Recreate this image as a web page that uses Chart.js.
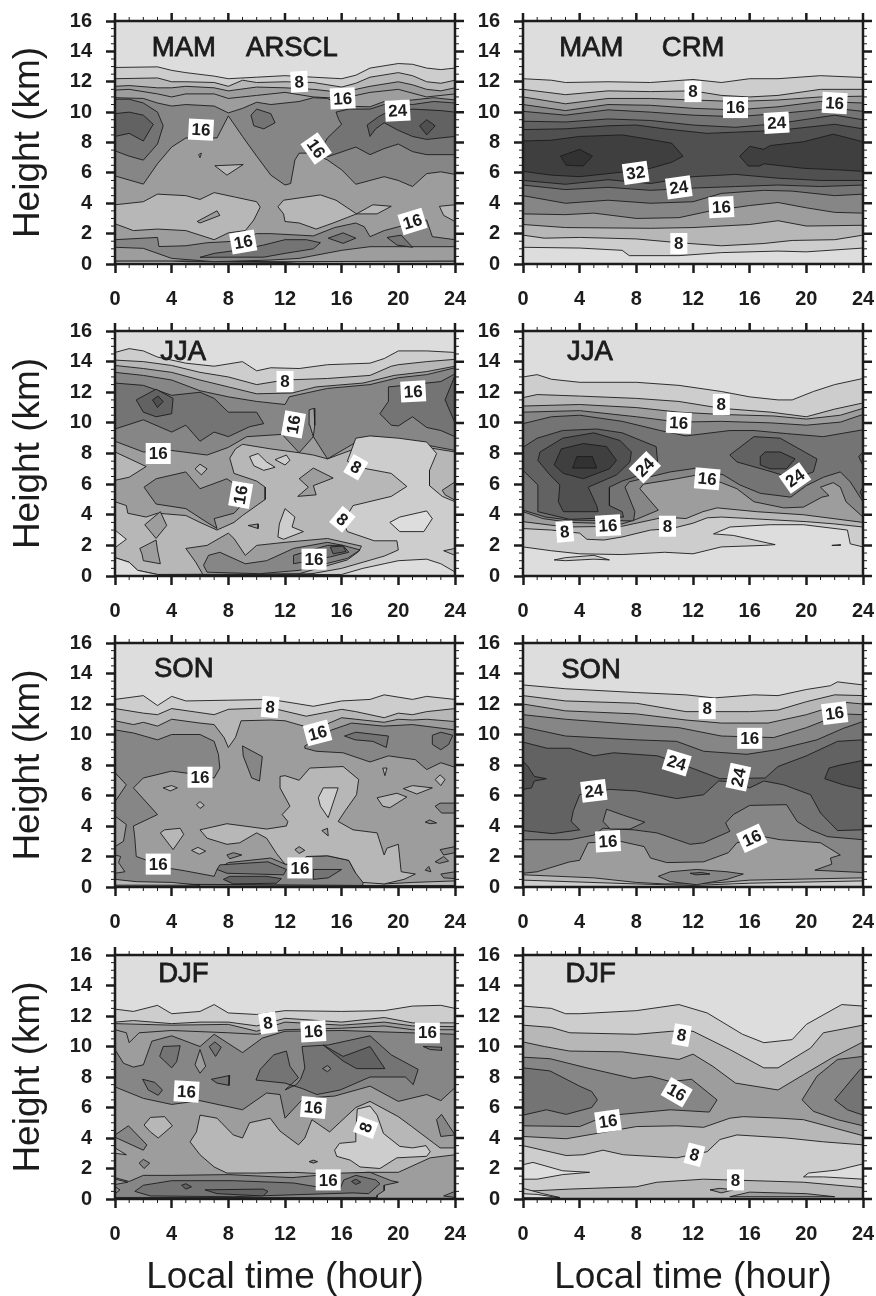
<!DOCTYPE html>
<html lang="en">
<head>
<meta charset="UTF-8">
<title>Cloud fraction by local time and height</title>
<script src="https://cdn.jsdelivr.net/npm/chart.js"></script>
<style>
body { margin: 0; background: #fff; width: 876px; height: 1296px; position: relative; overflow: hidden; }
canvas { position: absolute; filter: blur(0.45px); }
</style>
</head>
<body>
<script>
// contour level -> gray
const levelGrays = { 0: '#dddddd', 4: '#cdcdcd', 8: '#b7b7b7', 12: '#9d9d9d', 16: '#868686', 20: '#747474', 24: '#626262', 28: '#505050', 32: '#3f3f3f', 36: '#323232' };

const xTicks = { min: 0, max: 24, step: 4 };
const yTicks = { min: 0, max: 16, step: 2 };

// each ring: [level, x,y,x,y... , optional lower edge x,y,x,y... left to right]
const mamArscl = [
  [4, [0,12.94,3,12.98,4,12.75,5,12.6,7,12.37,8,12.2,10,12.3,12,12.4,14,12.3,16,12.2,17,12.43,18,12.9,20,13.2,21,13.15,22,12.9,23,12.8,24,12.9,24,0,0,0]],
  [8, [0,12.2,3,12.25,4,12,5,12,7,11.95,8,11.7,9,12.1,10,11.95,12,12,14,11.95,16,11.65,17,11.9,18,12.3,20,12.6,21,12.4,22,12,23,11.9,24,12.1], [0,0.2,1,0.3,3,0.3,5,0.15,12,0.1,14,0.25,15,0.45,16,0.15,17.5,0.3,18,0.7,18.5,0.3,19,0.2,24,0.2]],
  [12, [0,11.7,1,11.75,3,11.6,4,11.6,5,11.7,7,11.6,8,11.4,10,11.65,12,11.6,14,11.5,16,11.3,17,11.5,18,11.7,20,12,21,11.8,22,11.5,23,11.4,24,11.6], [0,0.2,5,0.2,12,0.15,24,0.2]],
  [12, [0,11.45,1,11.5,3,11.2,4,11,5,11.2,7,11.2,8,10.9,10,11.1,12,11.3,14,11,16,10.9,17,11.1,18,11.3,20,11.5,22,11,24,11.2], [0,0.2,5,0.2,12,0.15,24,0.2]],
  [16, [0,10.95,2,10.9,3,10.6,4,10.4,5,10.5,7,10.4,8,9.95,9,10.25,10,10.65,11,10.5,12,10.6,13,10.7,14,10.95,15,10.9,16,10.4,18,10.35,19,10.7,21,10.8,22.5,10.95,24,10.8], [0,5.8,2,5.26,3,6.6,4,7.7,5,8.3,7.2,8.3,8,9.75,9,8.4,10,7.1,11,5.85,12,5.2,12.4,5.3,12.7,6.85,13,7.3,14,7.3,15,6.85,16,6.2,17,5.25,18,5.5,19,5.75,20,5.5,21,5.1,22,5.95,23,6.07,24,5.9]],
  [20, [15.6,10,16.5,10.2,18,10.2,19,10.5,20,10.6,21,10.5,22.5,10.7,24,10.6,24,7.2,22,7.2,21,7.4,20,7.9,19,7.6,18,7.2,17,7.7,15,7.06,14.5,7.5,15,8.3,16,9.2,15.8,9.5]],
  [20, [0,10.85,1,10.85,2,10.6,3,10,3.4,9.1,3,7.9,2,6.84,1,7.1,0,7.45]],
  [20, [10,10.2,11,9.9,11.3,9.3,10.5,8.9,9.8,9.1,9.6,9.8]],
  [24, [0,9.9,1,10,2,9.8,2.7,9.2,2,8.1,1,8.6,0,8.4]],
  [24, [17.8,9.15,18,8.4,18.4,8.9,19,9.3,20,8.8,21,8.4,22,8.2,23,8.3,24,8.4,24,10,23,10.1,21,10.2,20,10,19,9.9,18.6,9.7]],
  [28, [22,9.5,22.6,9.1,22,8.5,21.5,9.1]],
  [8, [0,3.9,2,4.1,3,4.6,5,4.5,6,4.25,7,4.7,8.5,4.4,10,4.1,10.25,3.75,9.8,2.9,9.2,2.2,8,2.05,7,1.6,5,2.2,3,2.3,1.3,2.2,0,2.65]],
  [8, [11.5,3.77,11.9,4.2,14.5,4.55,15.6,4.2,17.05,3.3,18.2,3.9,19.5,3.8,18.5,3.3,17.05,3.3,15.4,2.7,14.2,2.3,13,2.7,12,2.8,11.9,3.3]],
  [8, [22.9,3.8,24,3.9,24,2.8,23.2,3.2]],
  [12, [5.8,2.8,7.2,3.5,7.4,3.2,6,2.7]],
  [8, [7.05,6.47,9.05,6.55,7.9,5.85]],
  [8, [5.9,7.2,6.1,7.3,6,7]],
  [16, [0,1.6,3,1.75,3.1,1.15,5,1.2,6.5,1.4,8.5,1.5,10,2,11,2,14,1.85,15.5,2.4,17,2.7,17.6,2.45,18,1.8,19,2.2,20,2.45,22,2.9,22.4,1.8,24,1.6], [0,1.1,2,1.03,4,0.37,7,0.15,11,0.26,13,0.37,16,0.9,18,1.14,24,1.14]],
  [20, [6,0.44,7,0.7,9,0.95,10.5,1.25,12,1.6,13.5,1.6,14.5,1.4,14,1,12,0.7,10.5,0.45,8,0.45]],
  [20, [15.05,1.7,16.1,2.05,17,1.7,16.1,1.36]],
  [20, [19.2,1.75,20.2,1.9,21,1.1,19.9,1.25]]
];
const mamCrm = [
  [4, [0,12.2,2,12.1,3,11.95,6,12,9,11.95,12,12.15,14,11.95,16,12.2,18,12.2,21,12.4,24,12.28], [0,1.1,4,1.05,7,0.9,7.5,0.55,11,0.55,14,0.75,18,0.85,20,0.8,24,1.05]],
  [8, [0,11.5,3,11.15,6,11.4,9,11.35,12,11.4,14,11.1,16,11,18,11.1,21,11.5,24,11.5], [0,1.9,1.5,1.7,4,1.75,8,1.65,11,1.4,14,1.2,17,1.35,19,1.55,22,1.6,24,1.9]],
  [12, [0,11,3,10.55,6,10.9,9,10.9,12,10.8,15,10.7,18,10.8,21,11,24,11.05], [0,2.6,3,2.4,9,2.35,12,2.4,16,2.6,18,2.85,20,2.5,24,2.55]],
  [16, [0,10.5,3,10.1,6,10.5,9,10.45,12,10.25,15,10.15,18,10.35,21,10.7,24,10.6], [0,3.3,3,3.25,5,3.35,8,3,11,3.05,13,3.45,16,3.85,18,4.05,20,3.7,22,3.4,24,3.35]],
  [20, [0,10.05,3,9.8,6,10.15,9,10,12,9.8,15,9.7,18,9.9,22,10.25,24,10.05], [0,4.5,3,4,6,4.2,9,4,12,4.1,14,4.65,17,4.85,19,4.8,22,4.5,24,4.6]],
  [24, [0,9.4,3,9.35,6,9.55,9,9.45,12,9.15,15,9,18,9.25,22,9.8,24,9.5], [0,5.2,3,4.9,6,5.05,9,4.85,12,5,15,5.1,18,5.2,21,5.1,24,5.2]],
  [28, [0,8.85,3,8.9,6,9.1,8,9.15,10,8.9,13,8.6,18,8.8,22,9.2,24,8.9], [0,5.5,3,5.25,6,5.55,9,5.3,12,5.75,15,5.9,18,5.65,21,5.5,24,5.5]],
  [32, [0,8.1,2,8.15,4,8.4,7,8.5,9,8.2,10.5,7.95,11.3,7.1,10.5,6.7,9,6.3,7,6.05,4,5.75,2,5.85,0,6.1]],
  [32, [15.3,7.1,16,7.75,17,7.55,17.45,7.8,19.8,8.05,21.9,8.55,24,8.05,24,6.1,22.2,6.2,19.8,6.3,17,6.6,16.7,6.45,15.9,6.45]],
  [36, [2.65,7.1,4,7.55,4.9,7.1,4.25,6.45,3.05,6.5]]
];
const jjaArscl = [
  [4, [0,14.6,1,14.85,2,14.7,3,14.3,5,13.9,7,13.7,9,14,10,13.4,11,13.6,13,13.55,15,13.8,18,13.9,19,14.2,20,14.7,22,14.7,24,14.6,24,0,0,0]],
  [8, [0,14.1,2,14,4,13.75,6,13.3,8,13,10,12.5,12,12.8,15,12.9,18,13.1,19.5,13.7,20,13.8,22,14,24,14.15], [0,1.2,1,0.9,1.6,0.37,3,0.1,16,0.15,17.5,0.5,19,0.8,20,1,22,1.1,23,0.8,24,0.26]],
  [12, [0,13.75,2,13.55,4,13.3,6,12.8,8,12.35,10,11.9,12.5,11.95,14.2,12.35,17.5,12.6,19.7,13.1,22,13.35,24,13.7,24,8.1,22,8.4,19,8.7,17.5,8.5,15,7.65,14,7.9,13,8.05,11,8.3,9,8.6,8.5,8.3,8.1,7.7,8.4,6.7,10,6.2,10.6,5.8,10.6,5,9,3.95,8.4,3.5,7.2,3,6,3.5,5,3.95,3,4.1,2.2,3.85,0.9,4.1,0.8,4.6,0,4.85]],
  [12, [8.4,2.45,9.2,1.35,10,2,12,2.2,15,2.45,17.4,1.95,17.2,1.6,16.4,1.05,13,0.15,6.2,0.1,5.7,0.9,5,1.8,6.5,2,8,2.8]],
  [8, [0,8.1,2.2,7.15,1,6.45,0,6.25]],
  [16, [0,13.3,2,13.1,4,12.8,6,12.1,8,11.7,10,11.4,12,11.2,12.3,11.7,13,11.85,15,12.25,18,12.5,20,12.95,22,13.15,24,13.6], [0,8.8,2,8.1,4,8.2,6.5,7.9,8,8.4,9.3,9.1,11.8,9.25,13,8.05,14,9.1,15,7.65,17.5,9,18.5,9.1,20,8.75,22,8.55,24,8.2]],
  [12, [13.7,10.85,14.05,10.95,14.1,9.85,14,9.1,13.75,9.85]],
  [16, [2.05,5.8,2.9,6.35,5,6.8,6,5.7,7.9,6.35,8.6,5.9,8.9,4.6,8.4,4.1,7,3.75,7.2,3.1,6.5,3.5,5,4.4,2.9,4.7]],
  [20, [0,12.6,2,12.45,4,11.8,6,12,7,11.6,8,10.7,10,10.7,10.5,9.95,9.5,9.75,8,9.1,7,9.4,6,8.8,5,9.85,4,9.4,2,10.2,0,9.6]],
  [24, [1.5,11.5,2.9,12.2,4.1,11.6,4,10.6,2.9,10.4,2,10.7]],
  [28, [2.65,11.5,3.05,11.75,3.4,11.4,3,11]],
  [20, [18.7,10.6,19.3,11.4,19.3,12.35,21,12.5,23,12.7,24,13.2,24,9.1,23,9.5,22,9.7,21,10.4,20,9.8,19.5,9.85]],
  [24, [24,13.1,23.3,11.5,24,10]],
  [4, [17,9,18,9.15,20,9.0,22,8.75,22.7,8,22.2,6.9,22.2,5.9,23.1,5.2,24,4.85,24,0,13,0,16,0.5,19,1.3,20,1.7,19.9,2.3,18.3,2.3,16.4,2.9,16.1,3.5,16.8,4.6,19.5,5.2,20.6,5.85,19.5,6.7,17.2,7.1,16.4,7.5]],
  [0, [0,1.2,1,0.9,1.6,0.37,3,0.1,16,0.1,17.5,0.5,19,0.8,20,1,22,1.1,23,0.8,24,0.26,24,0,0,0]],
  [0, [19.4,3.5,20.1,3.85,22,4.25,22.4,3.75,21.8,2.9,20.1,2.9]],
  [0, [0,3,0.8,2.4,0,1.85]],
  [4, [9.5,7.8,10.1,8,10.7,7.45,11.3,7.1,10.5,6.9,9.8,7.2]],
  [4, [11.3,7.6,12.1,7.9,12.35,7.55,12,7.25]],
  [4, [11.6,3.4,12,4.4,12.7,3.85,12.5,3.2,13.3,2.9,11.9,2.4,11.5,2.55]],
  [12, [13,6.35,14,7.05,15.4,6.4,14,5.9,14.2,5.3,12.9,5.2,13.65,5.8]],
  [8, [5.65,7,6,7.3,6.5,7,6.1,6.6]],
  [12, [9.4,3.3,10.1,3.4,10.1,3.1]],
  [16, [6.25,0.7,6.6,1.35,7.4,1.55,9.2,0.8,10.7,1,12.6,1.8,15,2.2,16.1,2,17.3,1.7,16.4,1.15,13,0.37,10.2,0.15,6.5,0.25]],
  [20, [12.6,1.35,15,2,16.1,2,16.5,1.55,15.2,1.25,12.6,0.8]],
  [24, [15.2,1.9,16.1,1.95,16.3,1.6,15.4,1.45]],
  [12, [23.1,5.6,24,6.15,24,4.95,23.3,5.3]],
  [8, [23.2,1.65,24,1.8,24,1.35]],
  [12, [1.75,1.8,2.9,2.35,3,1.7,3.2,0.8,2,1,1.9,1.45]],
  [12, [2.1,3.35,3.2,4.2,3.65,3.3,2.9,2.45]]
];
const jjaCrm = [
  [4, [0,13,1,13.15,2,12.85,4,12.65,8,12.65,11,12.45,14,12.05,16,11.7,18,11.5,19,11.5,20.5,12.05,22,12.5,24,12.9], [0,1.9,2,1.65,4,1.45,7,1.4,10,1.55,12,1.45,14,1.9,17,2,17.8,2.05,14.85,2.65,13.45,2.75,14.6,3.2,17.45,3.35,19.8,3.35,22.9,3,23.1,2.1,24,1.9]],
  [4, [2.2,1.05,3,1.2,5,1.35,6.1,1.05,5,1.1,3,1]],
  [4, [21.8,2,22.4,2.05,22.4,2]],
  [8, [0,11.65,1,11.85,4,11.75,8,11.6,11,11.4,14,10.95,17.5,10.7,20,10.4,22,10.9,24,11.3], [0,3.1,2,3,4,2.8,4.5,2.4,5.7,2.35,7,2.55,9,3,10.5,3.1,12,3.45,13,3.8,14,3.85,16,3.75,18,3.65,20,3.55,22,3.4,24,3.2]],
  [12, [0,11.1,4,11.2,8,11,11,10.7,14,10.55,17.7,10.45,20,10.25,22.4,10.5,24,10.95], [0,3.55,3,3.2,7,3.25,10,3.85,11.5,3.75,12.7,4.2,13.7,4.45,16.5,4.2,19.8,4,24,3.5]],
  [16, [0,10.7,4,10.8,8,10.4,11,10.05,14,10.1,17.5,10,20,9.85,22.4,10.05,24,10.55], [0,4.2,1.4,3.75,3.3,3.5,7,3.4,8,3.7,9.55,4.3,8.25,5.7,8.5,6,10.85,6.35,12.3,6.6,14,6.1,15.1,5.7,16.3,4.85,18.4,4.45,19.8,4.5,21.1,5.15,21.6,5.25,21,5.8,21.9,6.1,22.4,5.8,22.8,4.85,24,3.85]],
  [20, [0,9.95,2,10.4,4,10.5,7,10.1,9.7,9.5,11.5,9.15,14.6,9.5,16.3,9.5,18.6,9.3,21.2,9.1,24,9.55], [0,4.3,1.6,3.85,3.3,3.65,7.8,3.6,7.9,4.2,7.2,5.8,7.5,6.15,10.4,6.8,12.3,7.05,14.15,6.6,15.3,5.95,16.75,5.4,18.9,5.15,20,5.9,21.2,6.45,22.4,6.8,23.1,6.15,24,4.85]],
  [24, [0,8.4,1,9,2.8,9.5,5.2,9.6,7,9.35,9.4,8.45,9.5,7.45,8.6,6.7,7,6.2,6.1,5.8,6.1,4.6,7,4.2,7.1,3.85,3.3,3.7,1.05,4.2,1.05,5.95,0,6.9]],
  [28, [1.05,7.55,1.2,8.1,2.8,9,5,9.35,6.85,8.85,7.65,8.1,7.55,7.45,6.6,6.6,4.6,5.8,5.2,4.6,5.3,4.2,2.85,4.2,2.5,4.85,2.6,5.95,1.9,6.6]],
  [32, [2.2,7.25,2.7,8.3,4.25,8.65,5.9,8.45,6.6,7.55,6.1,7,4.25,6.35,2.85,6.7]],
  [36, [3.5,7.05,3.8,7.8,4.9,7.8,5.2,7.05]],
  [24, [14.6,7.9,16.3,9.1,18.15,9,20.75,7.65,20.5,6.8,19.2,6.35,17.2,6.9,15.1,7.45]],
  [28, [16.75,7.8,17.1,8.1,18.15,8.1,19.2,7.65,18.6,7,17.45,7,16.75,7.25]],
  [24, [23.7,7.8,24,8.1,24,7.2]],
  [24, [23.8,5.5,24,5.8,24,5]]
];
const sonArscl = [
  [4, [0,12.3,2,12.55,3,11.9,4,12.5,5,12.2,8,12.25,11,12.3,14,11.85,16,12.2,18,12.3,19,12.6,21,12.3,22,12.5,24,12.3,24,0,0,0]],
  [8, [0,11.7,2,11.4,3,11.3,4,11.7,7,11.3,8,11.65,11,11.75,13.5,11.2,16,11.65,17,11.5,19,11.1,20,11.4,21,11.3,22,11.5,24,11.7], [0,0.15,24,0.1]],
  [12, [0,10.9,1.3,10.65,2,10.8,3,10.55,4,11,6,10.75,7,10.65,7.7,9.8,8,9.15,8.5,9.8,8.9,10.9,11,10.95,12,10.9,13.5,10.5,15,10.7,16,11.1,17,11,19,10.8,20,11,21,10.95,22,11,24,10.85], [0,0.15,24,0.15]],
  [16, [0,10.3,1.3,10.1,3,9.65,4,10,6,10,7,9.55,7.3,8.7,7.4,7.8,7,7.15,6,7.35,4,7.6,2,7.15,1.3,6.5,3,4.75,1.3,4,1.4,3.2,1.5,2,3,1.5,4,1.2,5,1.05,7,0.7,7.2,1.15,8,1.6,11,1.9,12,1.5,13,1.5,13.5,2,15,2.05,16.5,1.75,17,0.9,18,0.4,18,0.1,10,0.15,0,0.2]],
  [12, [0,7.5,0.8,6.7,0,5.6]],
  [12, [0,4.65,0.8,4.1,0.6,3,0,2.65]],
  [12, [0,2.1,0.4,2,0.25,1.6,0.7,1,0,0.9]],
  [8, [0,0.5,1.5,0.35,4,0.3,6,0.12,0,0.12]],
  [8, [17.5,0.45,19,0.2,21,0.3,24,0.4,24,0.1,17.5,0.1]],
  [8, [11.65,7.25,12,7.3,13,7,13.75,7.8,16.1,7.9,17.2,7.05,17.05,6.05,16.25,5,15.75,4.3,16.8,3.75,18.5,3.55,19,2.1,19.2,2.55,20,2.8,20.2,1,21.2,0.85,20.4,0.5,19,0.2,17.5,0.3,17,0.9,16.5,1.75,15,2.05,13.5,2,13,1.5,12,1.5,11.4,2.2,10.7,3.2,10,3.55,8.8,2.9,7.9,2.8,6.5,3.2,6,3.75,7.9,4.15,10.7,3.8,12.1,4,12.2,4.3,11.8,4.75,12.35,5.3,11.65,6.5]],
  [4, [14.35,5.85,14.7,6.5,15.75,6.5,15.05,4.55,14.5,5.3]],
  [12, [14.6,3.7,15,3.85,15.05,3.35]],
  [12, [12.7,2.45,13,2.65,13.4,2.4,13,2.2]],
  [16, [13.4,9.25,15.3,10.3,16.7,10.75,18.95,10.55,21,10.65,24,10.3,24,7.85,23,8.15,22,7.7,21.2,8.35,19.3,8.6,18,8.2,16.1,8.8,14.2,8.9,13.4,9.1]],
  [20, [16.2,9.9,17,10.15,19.3,9.9,19.15,9.15,18.2,9.55,16.95,9.65]],
  [20, [22.4,9.95,23,10.15,23.85,9.95,23.55,9.35,23,9,22.4,9.35]],
  [16, [9,9.25,10.4,8.55,10.2,6.95,9.65,7.15,9.05,8.6]],
  [8, [3.4,6.5,4,6.65,4.4,6.5,3.9,6.3]],
  [8, [5.75,5.4,6,5.6,6.3,5.35,6,5.15]],
  [8, [3.2,3.55,3.5,3.75,4.6,3.85,4.85,3.45,4.1,2.45]],
  [8, [5.4,2.4,5.85,2.6,6.4,2.35,5.95,2.15]],
  [8, [18.5,5.85,19.9,6.15,20.6,5.9,19.4,5.2,18.9,5.3]],
  [8, [20.35,6.45,21,6.65,22.4,6.5,21.3,6.1]],
  [8, [22.6,7.05,22.95,7.35,23.3,7.05,23,6.65]],
  [8, [18.9,7.8,19.2,7.8,19.05,7.3]],
  [16, [22.6,5.3,22.95,5.5,24,5.5,24,4.85,23.05,4.85]],
  [16, [21.9,4.25,22.2,4.4,22.7,4.2,22.25,4.15]],
  [16, [22.95,2.45,24,2.65,24,2.25,23.2,2.1]],
  [16, [22.6,1.65,23.2,2,23.55,1.7,22.9,1.55]],
  [16, [23,0.85,24,1.0,24,0.55,23.2,0.6]],
  [16, [21.9,1.1,22.15,1.35,22.3,1.0]],
  [20, [7.2,1.15,7.4,1.45,10.8,1.65,12.1,1.15,11.9,0.8,7.9,0.9]],
  [24, [7.65,0.5,8.1,0.7,10.7,0.7,11.75,0.55,11.4,0.25,8.35,0.2]],
  [20, [14,1.15,16,1.15,15.05,0.6,14,0.5]],
  [16, [7.9,2.1,8.35,2.25,8.95,2.1,8.1,1.85]]
];
const sonCrm = [
  [4, [0,13.25,3,13,8,12.75,11.5,12.6,13.5,12.4,16.3,12.6,18,12.55,20,12.95,21.7,13.2,22.2,13.45,24,13.25,24,0,0,0]],
  [8, [0,12.55,3,12.2,8,12.05,11.5,11.5,16,11.5,18,11.6,20,12.15,22,12.6,24,12.55], [0,0.45,8,0.2,12,0.1,16,0.25,24,0.4]],
  [12, [0,12,3,11.55,8,11.35,11.5,10.95,14,10.75,17.3,10.75,20,11.3,22.8,12.1,24,12], [0,0.8,5,0.6,8,0.3,10,0.2,12,0.2,14,0.3,16,0.45,24,0.6]],
  [16, [0,11.3,3,11,8,10.65,11,10.45,14,9.9,17.7,9.8,20,10.45,22.5,11.35,24,11.3], [0,0.9,1,1,3.3,1.65,4,1.75,4.6,2.9,6.85,3,8.55,2.65,9,1.9,10.15,1.6,12.75,1.65,14.5,2.25,15.1,2.9,17,3.3,18.15,3.1,21,2.9,22.4,2.1,21.7,1.9,21.8,1.5,20.6,1.1,24,0.95]],
  [20, [0,10.5,3,9.9,8,9.65,10.85,9.55,12.75,8.9,15.8,8.7,17.9,9,20.75,9.65,22.6,10.4,24,10.85], [0,3.1,3.3,3.1,5,3.4,5.65,3.85,7.8,3.75,9.45,3.55,11.8,2.8,12.75,2.9,14.6,3.65,14.3,4.2,14.85,4.75,16,5.35,18.6,5.4,19.35,4.3,20.3,3.75,21.5,3.3,24,3.1]],
  [16, [5.9,5.1,7.1,4.7,8.6,4.25,7.55,3.8,6.15,3.8,5.65,4.3]],
  [24, [0,9.5,1.7,9.1,3.3,9.1,5,8.6,6.4,8.8,9.5,8.6,10.9,8.15,12.2,7.7,13.9,7.1,17.1,7.15,18,7.9,20,8.6,22.2,9.55,24,9.65,24,3.75,22.2,3.7,21,4.85,20.3,6.05,18.4,6.7,17,6.95,16,6.5,14.9,6.9,13.8,6.95,12.75,6.05,10.85,5.8,8,6.3,6.1,6.4,4,6.05,3.55,5,3.4,4.3,4,3.75,2.1,3.5,0,3.7]],
  [28, [0,8.25,0.35,7.9,0.8,7.25,1.65,7.1,0.8,6.95,0.6,6.5,0,6.4]],
  [28, [21.3,7.1,21.6,7.8,22.4,8,24,8.3,24,6.4,22.6,6.7]],
  [16, [9.55,0.7,10.4,1,12.25,1.15,14.4,1,15.55,0.85,14.4,0.5,12.25,0.15,10.4,0.35]],
  [20, [11.8,0.9,12.6,0.95,13.2,0.85,12.2,0.8]]
];
const djfArscl = [
  [4, [0,12.45,1.3,12.3,3,12.7,4,12.15,6,12.3,7,12.75,8,12.2,10,12.1,12,12.35,16,12.3,19,12.35,21,12.65,23,12.7,24,12.5,24,0,0,0]],
  [8, [0,11.6,1.3,11.7,4,11.5,6,11.6,8,11.6,10,11.35,12,11.85,16,11.6,19,11.9,21,11.55,24,11.55,24,0,0,0]],
  [12, [0,11.5,4,11.4,8,11.45,10,11,12,11.6,16,11.4,19,11.6,21,11.35,24,11.3,24,0,0,0]],
  [12, [0,11.1,0.8,10.9,1,10.25,1.7,10.9,4,11.05,8,10.9,10,10.8,12,11.1,16,11.2,19,11.35,21,11.1,24,11.1,24,0,0,0]],
  [16, [0,9.8,0.6,8.9,1.3,8.65,2,8.8,2.6,10.35,4,10.7,6,10,7,10.8,9,9.6,10.4,10.55,12,11,16,11.05,24,10.8,24,7.3,23,6.45,22,6.85,20,6.4,18,7.4,15.5,6.75,14,6.65,13.2,6.5,12,5.3,11.65,6.85,10.7,6.95,9,5.85,6,6.45,4,6.2,2,6.6,0,7.35]],
  [8, [5.75,4.4,6,5.5,7.2,5.3,8.35,4.2,9,4,9.5,5,10.95,5.3,11.65,4.45,12.95,3.55,13.4,4,13.9,5.2,15.15,4.4,17,6,18,6.4,20,5.4,20.95,4.75,22.95,3.35,24,3.35,24,2.9,22.25,2.7,20,1.75,17.75,1.75,15.9,1.6,12.6,1.75,10,1.7,7.9,1.7,7,2.1,6,2.9,5.3,3.75]],
  [4, [15.5,3.2,15.85,3.65,16.95,3.75,17,4.5,17.1,5.9,18,6.1,18.5,5.5,18.95,4.3,20.1,3.45,21,3.35,21.95,3.5,22.25,3.1,22,2.8,19.9,2.7,18.7,2,17.3,2.1,16.6,2.55,15.65,2.8]],
  [16, [0,1.4,1,1.15,2,1.55,4,1.55,8,1.6,12.5,1.4,16,1.7,18,1.75,19.5,1.2,20,1.1,19,0.9,19,0.55,18.5,0.25,18.5,0.1,0,0.1]],
  [12, [0,1.3,0.9,1.1,0,0.95]],
  [12, [0,0.8,0.35,0.6,0,0.35]],
  [20, [1.4,0.5,2,0.9,4,1.2,8.35,1.2,12.6,1.05,14.25,0.8,15.9,0.7,16.15,1.25,17,1.55,18.4,1.25,18.7,1,17.9,0.35,16.8,0.4,8.35,0.15,2.5,0.2]],
  [24, [6.35,0.6,10.45,0.65,10.8,0.5,10.45,0.2,7.2,0.35]],
  [24, [4.7,0.9,5,1,5.4,0.8,5,0.65]],
  [24, [16.7,1.15,17,1.3,17.35,1.1,17,0.95]],
  [8, [2.05,4.85,2.5,5.35,3.5,5.4,4.05,4.8,3.05,4,2.5,4.4]],
  [16, [0,4.2,0.95,4.8,2.25,3.55,2,3.2,0,4.05]],
  [8, [0,3.35,0.8,2.9,0,3]],
  [16, [1.7,2.35,2,2.6,2.45,2.35,2.05,2]],
  [16, [22.7,5.2,23.05,5.55,24,4.2,23,4.1]],
  [16, [13.7,2.45,14,2.55,14.3,2.45,14,2.35]],
  [16, [23.2,0.2,24,0.5,24,0.1]],
  [20, [3.15,9.35,3.4,10,4.6,10.05,4.35,9,4,8.6]],
  [12, [5.65,8.8,6,9.8,6.4,8.7,6,8.25]],
  [20, [6.65,10,7.05,10.3,7.5,9.95,7.1,9.35]],
  [20, [6.8,7.85,8.1,8.1,8.05,7.45,7.2,7.6]],
  [20, [1.95,7.85,2.8,7.65,3.35,7.15,3.05,6.8,2.35,7.15]],
  [20, [9.95,7.8,10.25,8.5,11.2,9.45,12.1,9.7,12.35,8.7,12.95,7.95,12,7.15,12.8,7.5,13.1,7.85,13.4,8.6,13.2,10,15.05,10.1,18,10.7,19.5,9.45,21.4,8.5,21.05,7.5,20.5,8,19.5,8,18,8,15.9,7.15,14.25,6.85,13.2,7.25,12,7.6]],
  [24, [14.7,10.1,16.1,9.35,18,10,19.05,8.55,17.05,8.55,16.1,9.05]],
  [16, [14.65,8.55,15,8.75,15.25,8.55,15,8.35]],
  [20, [21.75,10,23.05,9.95,23.05,9.75,22.25,9.8]]
];
const djfCrm = [
  [4, [0,12.65,2,12.5,3,12.15,4,12.15,8,12.35,11,12.75,13,12.2,15.5,10.8,17,10.25,19,10.45,20,11.45,22.5,12.75,24,12.65,24,0,0,0]],
  [0, [0,2.25,0.7,2.4,2.8,1.85,4.7,1.75,2.8,1.6,1,1.3,0,1.3]],
  [0, [19.8,1.45,20.15,1.7,22.2,1.9,24,2.3,24,1.3,21.2,1.45]],
  [8, [0,0.5,3.3,0.65,8,0.8,9.45,1.1,12.75,1.3,16.3,1.2,19.8,1.1,24,0.75,24,0,0,0]],
  [4, [0,0.7,1.4,0.35,2.6,0.1,0,0.1]],
  [0, [0,0.35,1,0.3,2.6,0.08,0,0.08]],
  [12, [13.2,0.6,13.9,0.7,14.85,0.6,14,0.4]],
  [12, [14.6,0.15,16,0.45,20,0.35,22,0.15]],
  [8, [0,11.4,2,11.25,3.3,10.9,8,10.8,10.5,11,12,11,14.6,9.8,17,8.6,18,8.6,20.3,9.9,21.2,10.9,24,11.4], [0,3.5,3.05,2.85,4.25,2.9,5.65,3.2,7.1,2.9,10.85,2.7,13,3.1,13.9,3.9,15.1,4.2,18.6,4,21.2,3.75,24,3.55]],
  [12, [0,10.3,1.5,10,3.3,9.7,7,9.65,11,9.15,12,9.5,13.4,8.7,15,7.6,18,7.15,19.8,8.15,21.8,9.25,24,10.3], [0,4.1,3.05,3.95,8,4.75,10.85,4.8,12.75,4.7,14.6,5.3,15.55,5.4,18.15,5.3,19.8,5.2,24,4.15]],
  [16, [0,9.3,1.9,9.2,4.5,8.6,7.8,7.9,9,8.05,10.4,7.7,11.9,7.85,13.7,6.5,13.15,5.7,10.4,5.85,6.35,5.5,5.2,5.2,4,4.75,0,4.8]],
  [16, [19.7,6.5,20.75,8.05,22.2,9.15,24,9.35,24,4.8,22.2,5.2,20.5,5.75]],
  [20, [0,8.6,1.9,8.4,4,7.4,4.85,7.05,5.25,6.5,4.85,6,3.05,5.55,1.65,5.85,0,5.5]],
  [20, [22,6.5,23.8,8.5,24,8.55,24,5.5,22.9,5.85]]
];

// contour labels: text, hour, km, tilt
const mamArsclLabels = [['8',13,12,-3],['16',16.07,10.9,-3],['24',19.95,10.1,-3],['16',6.07,8.85,3],['16',14.2,7.6,55],['16',9.05,1.45,-10],['16',21,2.8,-17]];
const mamCrmLabels = [['8',12,11.35,0],['16',15,10.3,0],['24',17.9,9.3,-3],['16',22,10.6,3],['32',7.95,6,-8],['24',11,5.05,-8],['16',14,3.75,-3],['8',11,1.35,0]];
const jjaArsclLabels = [['8',12,12.7,0],['16',21.05,12.05,-3],['16',12.6,9.9,-80],['16',3.05,8,0],['8',17,7.1,30],['16',8.87,5.3,-80],['8',16.05,3.7,40],['16',14.05,1.1,0]];
const jjaCrmLabels = [['8',14,11.2,0],['16',11,10,3],['24',8.6,7.1,-45],['16',13,6.35,5],['24',19.2,6.4,-35],['8',2.95,2.9,-5],['16',6,3.3,-3],['8',10.2,3.25,0]];
const sonArsclLabels = [['8',10.95,11.8,5],['16',14.3,10.1,-15],['16',6,7.2,0],['16',3.05,1.5,0],['16',13.05,1.25,0]];
const sonCrmLabels = [['8',13,11.7,0],['16',22,11.4,-7],['16',16,9.75,0],['24',10.85,8.15,17],['24',15.2,7.2,-78],['24',5,6.3,-7],['16',6,3,-3],['16',16.15,3.2,-25]];
const djfArsclLabels = [['8',10.8,11.55,-8],['16',14,11,-3],['16',22.05,10.9,0],['16',5.05,7.05,3],['16',14,6,5],['8',17.7,4.7,-70],['16',15.05,1.25,0]];
const djfCrmLabels = [['8',11.2,10.75,10],['16',10.85,7,30],['16',6,5.1,-8],['8',12.1,2.9,15],['8',15,1.25,0]];

// panel captions: text, hour, km
const mamArsclTitle = [['MAM',2.6,14.2],['ARSCL',9.25,14.2]];
const mamCrmTitle = [['MAM',2.55,14.2],['CRM',9.8,14.2]];
const jjaArsclTitle = [['JJA',3.2,14.6]];
const jjaCrmTitle = [['JJA',3.1,14.6]];
const sonArsclTitle = [['SON',2.75,14.3]];
const sonCrmTitle = [['SON',2.7,14.2]];
const djfArsclTitle = [['DJF',3.05,14.7]];
const djfCrmTitle = [['DJF',3,14.7]];

const FONT = "'Liberation Sans', Arial, sans-serif";
const INK = '#1c1c1c';
const rowTops = [21, 331, 643, 955];
const rowBottoms = [264, 576, 887, 1199];

// x,y,x,y... -> closed {x,y} list, lower edge walked backwards
function ringPoints(upper, lower) {
  const pts = [];
  for (let i = 0; i < upper.length; i += 2) pts.push({ x: upper[i], y: upper[i + 1] });
  if (lower) {
    for (let i = lower.length - 2; i >= 0; i -= 2) pts.push({ x: lower[i], y: lower[i + 1] });
  }
  pts.push({ x: pts[0].x, y: pts[0].y });
  return pts;
}

const panelExtras = {
  id: 'panelExtras',
  afterDatasetsDraw(chart, args, opts) {
    const ctx = chart.ctx;
    const xs = chart.scales.x, ys = chart.scales.y;
    const area = chart.chartArea;

    ctx.save();
    // caption
    ctx.font = '27.5px ' + FONT;
    ctx.fillStyle = INK;
    ctx.strokeStyle = INK;
    ctx.lineWidth = 0.8;
    ctx.textAlign = 'left';
    ctx.textBaseline = 'middle';
    opts.captions.forEach(c => {
      ctx.fillText(c[0], xs.getPixelForValue(c[1]), ys.getPixelForValue(c[2]));
      ctx.strokeText(c[0], xs.getPixelForValue(c[1]), ys.getPixelForValue(c[2]));
    });

    // contour labels on white boxes
    ctx.font = 'bold 17px ' + FONT;
    ctx.textAlign = 'center';
    opts.labels.forEach(l => {
      const w = l[0].length > 1 ? 25 : 17;
      ctx.save();
      ctx.translate(xs.getPixelForValue(l[1]), ys.getPixelForValue(l[2]));
      ctx.rotate(l[3] * Math.PI / 180);
      ctx.fillStyle = '#ffffff';
      ctx.fillRect(-w / 2, -10.5, w, 21);
      ctx.fillStyle = INK;
      ctx.fillText(l[0], 0, 1);
      ctx.restore();
    });

    // frame and ticks on all four sides
    ctx.strokeStyle = INK;
    ctx.lineWidth = 2.5;
    ctx.strokeRect(area.left, area.top, area.right - area.left, area.bottom - area.top);
    ctx.beginPath();
    xs.ticks.forEach(t => {
      const px = xs.getPixelForValue(t.value);
      ctx.moveTo(px, area.top);
      ctx.lineTo(px, area.top - 8);
    });
    ys.ticks.forEach(t => {
      const py = ys.getPixelForValue(t.value);
      ctx.moveTo(area.right, py);
      ctx.lineTo(area.right + 9, py);
    });
    ctx.stroke();
    ctx.lineWidth = 1;
    ctx.beginPath();
    for (let h = 0; h <= 24; h++) {
      if (h % 4 === 0) continue;
      const px = xs.getPixelForValue(h);
      ctx.moveTo(px, area.top); ctx.lineTo(px, area.top - 4);
      ctx.moveTo(px, area.bottom); ctx.lineTo(px, area.bottom + 4);
    }
    for (let k = 0; k <= 16; k += 0.5) {
      if (k % 2 === 0) continue;
      const py = ys.getPixelForValue(k);
      ctx.moveTo(area.left, py); ctx.lineTo(area.left - 4, py);
      ctx.moveTo(area.right, py); ctx.lineTo(area.right + 4, py);
    }
    ctx.stroke();
    ctx.restore();
  }
};

function drawPanel(row, col, rings, labels, captions) {
  const top = rowTops[row], bottom = rowBottoms[row];
  const lastRow = row === rowTops.length - 1;
  const canvasLeft = col === 0 ? 0 : 470;
  const canvasWidth = col === 0 ? 470 : 406;
  const axisWidth = col === 0 ? 115 : 53;
  const axisHeight = lastRow ? 97 : 50;

  const canvas = document.createElement('canvas');
  canvas.width = canvasWidth;
  canvas.height = bottom - top + 20 + axisHeight;
  canvas.style.left = canvasLeft + 'px';
  canvas.style.top = (top - 20) + 'px';
  document.body.appendChild(canvas);

  const allRings = [[0, [0, 0, 24, 0, 24, 16, 0, 16]]].concat(rings);
  const datasets = allRings.map((r, i) => ({
    data: ringPoints(r[1], r[2]),
    showLine: true,
    fill: 'shape',
    backgroundColor: levelGrays[r[0]],
    borderColor: INK,
    borderWidth: 0.9,
    pointRadius: 0,
    pointHoverRadius: 0,
    tension: 0,
    order: -i
  }));

  new Chart(canvas, {
    type: 'scatter',
    data: { datasets },
    plugins: [panelExtras],
    options: {
      responsive: false,
      animation: false,
      events: [],
      layout: { padding: { top: 20, right: canvasWidth - 340 - axisWidth, left: 0, bottom: 0 } },
      plugins: {
        legend: { display: false },
        tooltip: { enabled: false },
        panelExtras: { labels, captions }
      },
      scales: {
        x: {
          type: 'linear',
          min: xTicks.min, max: xTicks.max,
          afterFit: s => { s.height = axisHeight; s.paddingLeft = 0; s.paddingRight = 0; },
          ticks: { stepSize: xTicks.step, color: INK, padding: 14, maxRotation: 0, font: { family: FONT, size: 20, weight: 'bold' } },
          grid: { drawOnChartArea: false, tickLength: 9, tickWidth: 2.5, tickColor: INK },
          border: { display: false },
          title: { display: lastRow, text: 'Local time (hour)', color: INK, padding: { top: 12, bottom: 0 }, font: { family: FONT, size: 37, lineHeight: 1 } }
        },
        y: {
          type: 'linear',
          min: yTicks.min, max: yTicks.max,
          afterFit: s => { s.width = axisWidth; s.paddingTop = 0; s.paddingBottom = 0; },
          ticks: { stepSize: yTicks.step, color: INK, padding: 14, font: { family: FONT, size: 20, weight: 'bold' } },
          grid: { drawOnChartArea: false, tickLength: 9, tickWidth: 2.5, tickColor: INK },
          border: { display: false },
          title: { display: col === 0, text: 'Height (km)', color: INK, padding: { top: 10, bottom: 0 }, font: { family: FONT, size: 37, lineHeight: 1 } }
        }
      }
    }
  });
}

drawPanel(0, 0, mamArscl, mamArsclLabels, mamArsclTitle);
drawPanel(0, 1, mamCrm, mamCrmLabels, mamCrmTitle);
drawPanel(1, 0, jjaArscl, jjaArsclLabels, jjaArsclTitle);
drawPanel(1, 1, jjaCrm, jjaCrmLabels, jjaCrmTitle);
drawPanel(2, 0, sonArscl, sonArsclLabels, sonArsclTitle);
drawPanel(2, 1, sonCrm, sonCrmLabels, sonCrmTitle);
drawPanel(3, 0, djfArscl, djfArsclLabels, djfArsclTitle);
drawPanel(3, 1, djfCrm, djfCrmLabels, djfCrmTitle);
</script>
</body>
</html>
